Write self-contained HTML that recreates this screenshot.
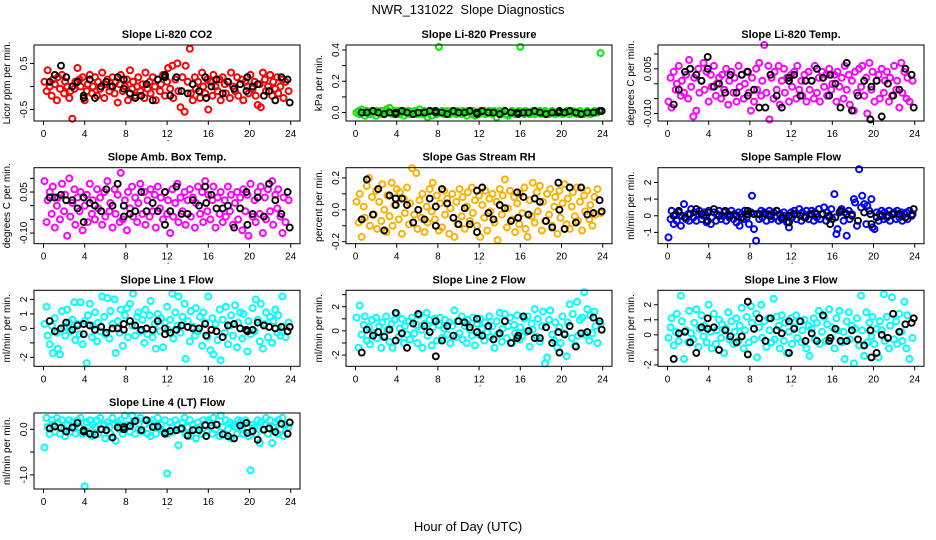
<!DOCTYPE html>
<html><head><meta charset="utf-8"><style>
html,body{margin:0;padding:0;background:#fff;width:936px;height:540px;overflow:hidden}
svg{display:block;font-family:"Liberation Sans",sans-serif}
</style></head><body>
<svg id="chart" width="936" height="540" viewBox="0 0 936 540" xmlns="http://www.w3.org/2000/svg">
<text x="468" y="14" text-anchor="middle" font-size="13" style="white-space:pre">NWR_131022  Slope Diagnostics</text>
<text x="468" y="531" text-anchor="middle" font-size="13">Hour of Day (UTC)</text>
</svg>
<script>
const hours=[0.1,0.3,0.4,0.6,0.8,0.9,1.1,1.3,1.4,1.6,1.8,2.0,2.1,2.3,2.5,2.6,2.8,3.0,3.1,3.3,
3.5,3.6,3.8,4.0,4.2,4.3,4.5,4.7,4.8,5.0,5.2,5.3,5.5,5.7,5.9,6.0,6.2,6.4,6.5,6.7,
6.9,7.0,7.2,7.4,7.5,7.7,7.9,8.1,8.2,8.4,8.6,8.7,8.9,9.1,9.2,9.4,9.6,9.8,9.9,10.1,
10.3,10.4,10.6,10.8,10.9,11.1,11.3,11.4,11.6,11.8,12.0,12.1,12.3,12.5,12.6,12.8,13.0,13.1,13.3,13.5,
13.7,13.8,14.0,14.2,14.3,14.5,14.7,14.8,15.0,15.2,15.4,15.5,15.7,15.9,16.0,16.2,16.4,16.5,16.7,16.9,
17.1,17.2,17.4,17.6,17.7,17.9,18.1,18.2,18.4,18.6,18.8,18.9,19.1,19.3,19.4,19.6,19.8,19.9,20.1,20.3,
20.5,20.6,20.8,21.0,21.1,21.3,21.5,21.6,21.8,22.0,22.2,22.3,22.5,22.7,22.8,23.0,23.2,23.3,23.5,23.8];
const refHours=[0.6,1.1,1.7,2.2,2.8,3.3,3.9,3.9,4.5,5.0,5.6,6.1,6.7,7.2,7.8,7.8,8.4,8.9,9.5,10.0,10.6,11.1,11.8,11.8,12.3,12.9,13.4,14.0,14.5,15.1,15.7,15.8,16.3,16.8,17.4,17.9,18.5,19.1,19.7,19.8,20.3,20.8,21.4,21.9,22.5,23.1,23.7,23.9];
const xTicks=[0,4,8,12,16,20,24];
const panelTitles=["Slope Li-820 CO2","Slope Li-820 Pressure","Slope Li-820 Temp.","Slope Amb. Box Temp.","Slope Gas Stream RH","Slope Sample Flow","Slope Line 1 Flow","Slope Line 2 Flow","Slope Line 3 Flow","Slope Line 4 (LT) Flow"];
const yTitles=["Licor ppm per min.","kPa per min.","degrees C per min.","degrees C per min.","percent per min.","ml/min per min.","ml/min per min.","ml/min per min.","ml/min per min.","ml/min per min."];
const colors=["#ff0000","#00ee00","#ff00ff","#ff00ff","#ffb000","#0000ff","#00ffff","#00ffff","#00ffff","#00ffff"];
const yDomains=[[-0.75,0.9],[-0.054,0.432],[-0.0125,0.013],[-0.139,0.139],[-0.2125,0.264],[-1.68,2.89],[-2.62,2.63],[-2.93,3.36],[-2.09,2.96],[-1.31,0.357]];
const yTicks=[[-0.5,0,0.5],[0,0.1,0.2,0.3,0.4],[-0.01,-0.005,0,0.005,0.01],[-0.1,-0.05,0,0.05,0.1],[-0.2,-0.1,0,0.1,0.2],[-1,0,1,2],[-2,-1,0,1,2],[-2,-1,0,1,2,3],[-2,-1,0,1,2],[-1,-0.5,0]];
const yTickLabels=[["-0.5","","0.5"],["0.0","","0.2","","0.4"],["-0.010","","","0.005",""],["-0.10","","","0.05",""],["-0.2","","0.0","","0.2"],["-1","0","1","2"],["-2","","0","1","2"],["-2","","0","","2",""],["-2","","0","1","2"],["-1.0","","0.0"]];

const co2=[.1,-.1,.35,0,-.2,.15,.05,-.3,.2,-.05,.25,-.15,.1,0,-.25,-.1,-.7,-.05,.1,.4,
.15,0,.2,-.3,-.1,.05,.25,-.15,0,.2,-.2,.1,-.05,.3,-.25,.05,.15,-.1,0,.2,
-.15,.1,-.35,.05,.25,-.1,0,.15,-.3,.35,-.05,.1,-.2,0,.2,-.1,.05,-.25,.3,-.05,
.1,-.15,.2,0,-.3,.15,-.1,.05,.25,-.2,.1,.4,-.05,.45,-.25,.15,.5,-.1,-.45,.2,
-.55,.45,.1,.82,-.15,-.3,.2,-.05,.1,-.25,.3,0,-.15,.15,-.5,.1,-.2,.25,0,-.1,
.15,-.3,.2,.05,-.15,.1,-.25,.3,0,-.1,.2,-.2,.05,.15,-.3,.1,0,-.15,.25,-.05,
.1,-.2,-.4,.05,-.45,.3,.15,-.1,0,.25,-.2,.1,-.05,.2,-.15,0,.15,-.25,.1,-.1];
const co2Ref=[.1,.25,.45,.2,0,.1,-.2,-.25,.15,-.25,0,.1,0,.2,.15,-.05,-.15,-.25,-.2,.05,-.3,.15,.2,.25,-.2,.2,-.1,-.15,.05,-.1,.2,-.25,0,.15,-.15,.1,-.05,.05,-.1,.2,0,.05,-.2,-.1,-.3,.2,.15,-.35];
const pressure=[0,.01,-.01,.02,0,-.02,.01,0,-.01,.01,0,-.02,.01,0,.01,-.01,0,.02,.01,.03,
0,-.01,.01,0,.01,-.01,0,-.02,.01,0,.01,-.01,0,.01,0,-.01,.02,0,-.01,.01,
0,-.03,.01,-.02,.01,0,-.01,.42,0,.01,-.01,0,.01,0,-.01,.01,0,-.01,.01,0,
-.01,.01,0,-.02,.01,0,-.01,.01,-.02,0,-.01,.01,0,.01,-.01,0,.01,0,-.01,.01,
-.03,0,.01,-.01,0,.01,-.01,-.02,0,.01,0,-.01,0,.01,.42,0,-.01,.01,0,-.01,
0,.01,-.01,0,0,.01,-.01,0,.01,0,-.01,0,.01,0,-.01,0,.01,0,-.01,0,
.01,0,-.01,0,.01,0,-.01,0,.01,0,-.01,0,.01,0,-.01,0,.01,0,0,.38];
const pressureRef=[0,0,.01,0,-.01,0,-.01,0,.01,0,-.01,0,0,.01,0,.01,0,-.01,.01,0,0,.01,-.01,0,.01,0,0,-.01,.01,0,0,-.01,0,0,.01,0,-.01,0,0,.01,0,.01,0,-.01,0,0,.01,.01];
const licorTemp=[-.006,.002,-.008,.004,-.002,0,.006,-.004,.001,-.003,.003,-.005,.008,-.001,-.011,.002,-.009,.005,-.003,.001,
.007,-.002,.004,-.006,.003,-.001,.006,-.004,0,.002,-.005,.003,-.002,.005,-.007,.001,.004,-.003,.002,-.006,
.006,-.001,.003,-.005,0,.004,-.003,-.009,.002,-.006,.005,-.002,.007,-.004,.001,.013,-.003,.006,-.012,.002,
-.005,.004,-.002,.006,-.007,.001,.005,-.003,.002,-.006,.003,-.001,.004,-.005,.006,-.002,.001,-.004,.003,-.006,
.004,-.002,.001,-.005,.006,-.003,.002,-.006,.004,-.001,.003,-.004,.005,-.002,0,.003,-.006,.004,-.001,.002,
-.005,.006,-.002,.003,-.007,.001,-.009,.004,-.003,.005,-.001,.006,-.004,.002,-.010,.007,-.002,.004,-.006,.001,
.003,-.005,.005,-.003,.001,.004,-.006,.002,-.004,.006,-.002,.001,-.008,.007,-.003,.004,-.005,.002,-.006,.001];
const licorTempRef=[-.007,-.002,.004,.005,.003,.001,.009,.005,-.001,0,-.003,.003,-.003,.003,.004,-.004,-.002,-.008,-.008,.003,-.004,-.008,.001,.002,.003,-.004,.001,.001,.005,.002,-.004,.003,0,-.008,.007,-.009,-.004,.001,-.012,-.001,.001,-.011,0,-.004,-.002,.005,.003,-.008];
const boxTemp=[.09,-.06,.02,.05,-.03,.07,-.08,0,.03,-.05,.08,-.02,.04,-.11,.1,-.04,.01,.06,-.07,.03,
-.02,.05,-.09,0,.04,-.06,.08,-.03,.02,-.05,.06,-.01,.03,-.07,.05,-.04,.09,-.02,.01,-.08,
.06,-.03,.04,-.06,.12,-.05,.02,-.09,.05,-.01,.07,-.04,.03,-.06,.01,.08,-.03,.05,-.07,.02,
-.04,.06,-.02,.04,-.08,.07,-.01,.03,-.05,.05,-.03,.02,-.1,.06,-.04,.01,.08,-.06,.03,-.02,
.05,-.07,.02,.06,-.04,.03,-.08,.01,.07,-.03,.05,-.06,.09,-.02,.04,-.05,.02,.07,-.08,.03,
-.03,.05,-.06,.02,-.04,.07,-.02,.04,-.07,.01,.05,-.05,.03,-.09,.06,-.02,.04,-.11,.08,-.04,
.02,-.06,.05,-.03,.07,-.1,.03,-.05,.06,-.02,.09,-.07,.04,-.01,.06,-.04,-.1,.03,-.06,.02];
const boxTempRef=[.03,.03,.04,.02,.02,-.01,.03,-.06,.01,0,-.02,.06,0,.08,-.04,0,-.03,-.02,.05,-.02,.01,-.02,.05,-.07,-.02,.07,-.03,-.03,.02,0,.07,.01,.04,-.01,-.01,0,-.08,-.01,.05,-.07,-.03,.03,-.04,.08,.02,-.03,.05,-.08];
const gasRH=[.05,-.08,.1,-.17,.02,-.05,.15,.2,-.1,.08,-.03,.12,-.12,.05,-.07,.16,0,-.14,.09,-.04,
.17,-.1,.03,.13,-.06,.11,-.15,.07,-.02,.14,-.09,.04,.26,-.03,.23,-.12,.06,-.05,.1,-.14,
.02,-.08,.13,-.01,.17,-.06,.09,-.13,.04,-.11,.12,-.03,.07,-.15,.01,.1,-.17,.05,-.09,.13,
-.04,.08,-.12,.02,.11,-.07,.14,-.02,.06,-.1,.09,-.17,.03,-.05,.12,-.13,.07,-.01,.1,-.08,
.05,-.19,.13,-.03,.09,.19,-.11,.01,.12,-.06,.08,-.14,.04,-.09,.1,-.02,.14,-.12,-.17,.06,
-.04,.17,-.08,.11,-.01,.15,-.13,.05,-.07,.1,-.03,.13,-.1,.02,.08,-.15,.12,-.05,.04,.16,
-.09,.07,-.12,.02,.11,-.04,.14,-.07,.05,-.13,.09,-.01,.12,-.06,.03,-.1,.08,-.03,.13,-.02];
const gasRHRef=[-.06,.19,-.03,.13,-.13,.09,.07,.03,.07,.03,-.08,0,-.06,.07,-.1,.02,.13,.04,-.05,-.09,.01,-.09,.12,-.14,.14,-.02,-.06,.03,.01,-.07,.11,-.05,.08,-.03,.07,.05,-.07,-.11,.17,0,-.12,.14,-.08,.14,-.03,-.02,.06,-.01];
const sampleFlow=[-1.3,-.2,.3,-.5,.1,-.3,.2,-.6,0,.7,-.2,.1,-.3,.4,-.1,.2,-.3,.1,.3,-.2,
0,.2,-.4,.3,-.5,-.1,.2,-.3,.1,.3,-.2,0,.2,-.3,.1,-.1,.3,-.2,.1,-.4,
.2,-.6,.1,-.2,.3,-.1,-.5,.2,1.2,-.8,-1.5,.1,-.2,.3,-.1,.2,-.3,.1,.3,-.2,
.2,-.1,.3,-.3,.1,-.2,.2,0,-.4,-.7,.2,-.1,.3,-.2,.1,.4,-.3,.2,-.1,.3,
-.2,.1,.3,-.3,.2,-.1,.4,-.2,.1,.5,-.3,.2,-.1,.4,-.2,1.3,-1.1,-.8,.2,.4,
-.3,.2,-1.2,.3,-.2,.1,1.0,.8,-.6,2.8,.5,1.2,.7,-.5,.6,.3,1.0,-.7,-.8,.2,
-.3,.1,.3,-.2,.2,-.1,.3,-.3,.1,.2,-.2,.3,-.1,.2,-.3,.1,.2,-.2,.3,.1];
const sampleFlowRef=[0,.3,-.1,.1,.4,.1,.2,-.3,.4,0,.3,0,0,-.1,.3,.1,.1,.1,.1,0,.3,-.1,0,-.4,.1,0,-.1,.1,.1,.1,0,-.5,-.1,.3,.1,0,-.3,.2,.1,-.5,-.1,0,0,.1,.1,-.1,0,.4];
const line1=[.3,1.5,-.5,-1.1,.2,-1.7,.7,-.3,-1.4,-1.8,1.2,.1,-.5,1.3,.4,-.2,.6,1.8,-.8,.3,
-.4,1.8,-1.1,.5,-2.4,.9,1.7,-.6,.2,1.1,-.9,.4,-.2,2.2,.8,-.4,2.1,-.7,1.2,.3,
2.0,-1.7,.5,-.3,1.3,-1.2,.9,1.4,-.6,1.7,.2,2.4,-.5,.8,1.1,-.2,.6,-1.0,1.3,-.4,
.9,1.9,-.6,.3,-1.4,1.0,-.2,.7,-1.3,.4,1.5,-.1,.6,2.4,-.7,1.1,.2,2.2,-.3,.8,
1.7,-2.1,.5,-.9,1.2,.1,-.5,1.4,-.2,.8,-1.2,1.1,.4,-.6,2.2,-1.5,.7,-1.8,.3,-.8,
1.3,-2.2,.6,-.3,1.5,-1.1,.2,.9,-.5,1.6,-1.3,.4,1.1,-.7,1.0,-.1,-1.6,.5,-.4,1.4,
-.2,2.0,.6,-.9,1.7,-1.4,.3,1.1,-.6,.8,-1.0,.5,1.3,-.3,.9,-.5,2.2,.1,-.6,.4];
const line1Ref=[.5,-.2,0,.4,-.1,.2,.3,-.4,.2,-.1,.1,-.3,0,0,.3,-.1,.5,.2,-.1,0,-.1,.5,0,-.4,-.3,-.1,.2,.1,0,0,.3,-.5,-.1,-.2,-.6,.2,.3,0,-.1,-.2,-.1,.4,.2,.1,0,.1,-.2,.1];
const line2=[1.1,-1.4,2.1,-.3,.5,1.2,-.8,.3,-1.1,.9,-.2,1.1,-.6,.4,-1.4,.7,-.4,1.2,.1,-.9,
.6,-1.4,.9,1.4,-.5,.2,1.0,-1.0,.4,-.3,.8,-.7,1.1,-.2,.5,-1.0,1.3,.1,-1.4,.6,
1.5,-.4,.9,-1.2,.3,1.0,-.8,.5,1.1,-.6,.2,.9,-.3,.7,-1.0,.4,1.7,-.5,.8,-.2,
1.2,-.7,.4,-1.0,.9,.1,-.4,1.1,-1.2,.6,-.3,1.0,.2,-.8,.7,-.1,1.2,-.5,.4,-1.4,
.8,-.3,1.5,-.9,.2,1.4,-.6,.4,1.1,-1.0,.5,-.2,1.3,-.7,.3,-.4,1.0,-.1,1.2,-1.3,
.6,.1,1.8,-.5,1.0,-.9,.4,1.6,-2.7,-2.2,.9,1.7,-.3,-.8,.7,-1.4,.3,-1.0,1.2,-.2,
-2.1,.7,2.2,-.6,1.4,-1.2,2.4,-.4,.9,1.1,3.2,-.3,1.8,-.8,1.3,-.2,1.6,.4,-1.0,.6];
const line2Ref=[-1.8,.1,-.4,-.1,-.5,.1,-.8,1.5,-.2,-1.4,.6,1.4,.4,-.1,.8,-2.1,-.8,.4,-.4,.8,.7,.3,-.1,1.0,-.4,.4,-.7,-.2,.8,-1.0,-.6,-.4,1.2,0,-.6,-.6,.3,-1.0,-.1,-1.8,-.3,.4,-1.3,-.2,-.1,1.1,.8,.1];
const line3=[-.2,.5,1.1,-.7,.2,1.4,-.4,2.6,.9,-1.6,.3,-.5,1.6,.1,-.3,.8,1.7,-.8,.4,1.3,
-.1,.6,-.5,2.0,.2,-.9,1.4,-.6,.3,1.0,-.2,.7,-1.2,.4,1.5,-.3,.9,-.6,.2,1.1,
-.4,.6,1.8,-.9,.3,1.2,-.5,1.9,.8,-.3,1.4,-1.5,.5,2.0,-.2,.9,-.8,1.1,.3,-.5,
2.4,-.3,1.2,.6,-.9,1.3,-.4,.8,-1.2,.2,1.1,-.6,.5,1.3,-.2,.9,-.5,.3,1.0,-.9,
.6,-1.4,.4,1.1,-.3,.8,1.6,-.6,.2,1.2,-.4,.7,1.7,-.2,.5,-.9,1.1,.3,1.6,-.5,
.2,-1.6,.9,1.5,-.3,.6,-1.9,.4,1.1,-.7,2.6,.3,-1.4,1.5,-.5,.8,-.1,1.2,-.6,.4,
-1.5,.9,.3,2.7,-.4,1.2,-.9,.6,2.5,-.3,.9,-.6,1.4,.2,-.4,2.2,-.9,1.3,-1.6,-.2];
const line3Ref=[-1.6,.1,.2,-.5,-1.2,.5,1.1,.4,.5,-1.0,.3,-.1,-.5,-.1,2.2,-1.3,.4,1.1,-.4,1.1,.3,.1,.9,-1.2,.4,.9,-.4,.1,-.4,1.3,-.4,-.2,.4,-.4,-.4,.3,-.3,-.7,.3,-1.5,-1.2,0,-.2,1.4,.2,.7,.8,1.1];
const line4=[-.4,.25,.05,-.1,.2,.1,-.05,.25,.15,-.1,.2,0,-.15,.1,.2,-.05,.15,.05,-.1,.2,
.05,.25,-.1,-1.25,.15,-.05,.2,-.15,.1,.05,.2,-.1,.25,0,.1,-.2,.15,.05,-.1,.25,
.1,-.25,.15,0,.2,-.1,.3,.05,.1,-.05,.3,.15,-.1,.2,0,.25,-.05,.1,.2,-.1,
.15,-.15,.2,.05,-.1,.25,0,.1,-.05,.2,-.97,-.1,.15,.05,-.05,.2,.1,-.35,0,.15,
.25,-.1,.05,.2,-.15,.1,0,-.2,.15,.05,-.1,.2,.1,-.05,.2,.15,-.1,.25,0,.1,
-.15,.3,.05,-.1,.2,0,.15,-.2,.1,.05,-.1,.2,.15,0,-.1,.2,.05,-.15,-.9,.1,
.05,-.1,.2,-.3,.15,0,.1,.25,-.1,.2,-.3,.05,.15,-.1,.2,0,.25,-.15,.1,.05];
const line4Ref=[.02,.06,.03,-.05,.04,.14,-.02,-.05,-.1,-.12,0,-.02,-.18,.04,.05,0,.07,.18,-.02,.2,.05,.06,-.08,-.1,-.04,-.02,.02,-.14,-.02,-.02,.09,-.15,.08,.1,-.11,-.15,-.2,.08,.14,-.08,-.04,-.23,-.01,.02,-.06,.12,-.1,.15];

const series=[co2,pressure,licorTemp,boxTemp,gasRH,sampleFlow,line1,line2,line3,line4];
const refSeries=[co2Ref,pressureRef,licorTempRef,boxTempRef,gasRHRef,sampleFlowRef,line1Ref,line2Ref,line3Ref,line4Ref];
const slugs=["co2","pressure","licor-temp","box-temp","gas-rh","sample-flow","line1-flow","line2-flow","line3-flow","line4-flow"];

const NS="http://www.w3.org/2000/svg";
const svg=document.getElementById('chart');
const colLeft=[34,346,658], rowTop=[45,167.7,290.3,413], PW=266, PH=76;
function mk(tag,attrs,parent){const e=document.createElementNS(NS,tag);for(const k in attrs)e.setAttribute(k,attrs[k]);parent.appendChild(e);return e;}

series.forEach((ys,p)=>{
  const L=colLeft[p%3], T=rowTop[Math.floor(p/3)];
  const [y0,y1]=yDomains[p];
  const xs=h=>L+9.5+h/24*247.2;
  const ysc=v=>T+PH-(v-y0)/(y1-y0)*PH;
  const g=mk('g',{},svg);
  
  
  const title=mk('text',{x:L+PW/2,y:T-7,'text-anchor':'middle','font-size':11,'font-weight':'bold'},g);
  title.textContent=panelTitles[p];
  
  
  const cy=T+PH/2, yt=mk('text',{x:0,y:0,'text-anchor':'middle','font-size':10,transform:`translate(${L-24},${cy}) rotate(-90)`},g);
  yt.textContent=yTitles[p];
  
  
  const pg=mk('g',{fill:'none',stroke:colors[p],'stroke-width':2},g);
  
  
  const n=Math.min(hours.length,ys.length);
  for(let i=0;i<n;i++){
    const c=mk('circle',{cx:xs(hours[i]).toFixed(1),cy:ysc(ys[i]).toFixed(1),r:3},pg);
    
    
  }
  const rg=mk('g',{fill:'none',stroke:'#000','stroke-width':1.9},g);
  
  
  const rs=refSeries[p], m=Math.min(refHours.length,rs.length);
  for(let i=0;i<m;i++){
    const c=mk('circle',{cx:xs(refHours[i]).toFixed(1),cy:ysc(rs[i]).toFixed(1),r:3},rg);
    
    
  }
  const box=mk('rect',{x:L,y:T,width:PW,height:PH,fill:'none',stroke:'#000','stroke-width':1},g);
  
  
  const xa=mk('g',{stroke:'#000','stroke-width':1},g);
  
  
  xTicks.forEach(t=>{
    const x=xs(t);
    mk('line',{x1:x,x2:x,y1:T+PH,y2:T+PH+4},xa);
    const lb=mk('text',{x:x,y:T+PH+16,'text-anchor':'middle','font-size':10,stroke:'none',fill:'#000'},xa);
    lb.textContent=t;
    
    
  });
  mk('rect',{x:xs(12)+0.5,y:T+PH+19,width:1,height:1,fill:'#000',stroke:'none'},xa);
  const ya=mk('g',{stroke:'#000','stroke-width':1},g);
  
  
  yTicks[p].forEach((t,k)=>{
    const y=ysc(t);
    mk('line',{x1:L-4,x2:L,y1:y,y2:y},ya);
    const s=yTickLabels[p][k];
    if(s){
      const lb=mk('text',{x:0,y:0,'text-anchor':'middle','font-size':10,stroke:'none',fill:'#000',transform:`translate(${L-7},${y}) rotate(-90)`},ya);
      lb.textContent=s;
      
      
    }
  });
});
</script>
</body></html>
